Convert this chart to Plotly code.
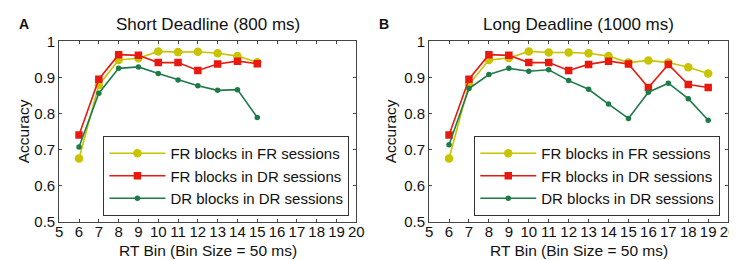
import plotly.graph_objects as go

bins_a = [6, 7, 8, 9, 10, 11, 12, 13, 14, 15]
bins_b = [6, 7, 8, 9, 10, 11, 12, 13, 14, 15, 16, 17, 18, 19]

a_fr_fr = [0.675, 0.879, 0.948, 0.953, 0.972, 0.970, 0.971, 0.967, 0.959, 0.942]
a_fr_dr = [0.740, 0.895, 0.963, 0.961, 0.941, 0.941, 0.919, 0.937, 0.945, 0.938]
a_dr_dr = [0.707, 0.856, 0.925, 0.929, 0.911, 0.893, 0.877, 0.864, 0.866, 0.789]

b_fr_fr = [0.675, 0.880, 0.948, 0.954, 0.972, 0.969, 0.969, 0.967, 0.959, 0.941, 0.947, 0.941, 0.928, 0.911]
b_fr_dr = [0.740, 0.895, 0.963, 0.961, 0.941, 0.941, 0.919, 0.936, 0.945, 0.937, 0.872, 0.936, 0.880, 0.872]
b_dr_dr = [0.713, 0.869, 0.908, 0.925, 0.917, 0.921, 0.891, 0.867, 0.826, 0.786, 0.859, 0.884, 0.841, 0.781]

series_names = ["FR blocks in FR sessions", "FR blocks in DR sessions", "DR blocks in DR sessions"]
titles = ["Short Deadline (800 ms)", "Long Deadline (1000 ms)"]
panel_labels = ["A", "B"]
x_title = "RT Bin (Bin Size = 50 ms)"
y_title = "Accuracy"
x_ticks = list(range(5, 21))
y_ticks = [0.5, 0.6, 0.7, 0.8, 0.9, 1.0]
y_tick_text = ["0.5", "0.6", "0.7", "0.8", "0.9", "1"]

colors = ["#C8C400", "#E81A10", "#1E7B48"]
symbols = ["circle", "square", "circle"]
sizes = [8.5, 7.5, 5.5]

W, H = 737, 260
FONT = "Liberation Sans, Arial, sans-serif"

fig = go.Figure()

panels = [
    (bins_a, [a_fr_fr, a_fr_dr, a_dr_dr], "x", "y", "legend"),
    (bins_b, [b_fr_fr, b_fr_dr, b_dr_dr], "x2", "y2", "legend2"),
]
for bins, ser, xa, ya, lg in panels:
    for name, vals, c, s, sz in zip(series_names, ser, colors, symbols, sizes):
        fig.add_trace(go.Scatter(
            x=bins, y=vals, name=name, mode="lines+markers",
            line=dict(color=c, width=1.6),
            marker=dict(color=c, symbol=s, size=sz, line=dict(width=0)),
            xaxis=xa, yaxis=ya, legend=lg,
        ))

xdoms = [[48 / W, 350 / W], [424 / W, 728 / W]]
ydom = [1 - 219 / H, 1 - 26 / H]

axis_common = dict(
    showgrid=False, zeroline=False, showline=True, linecolor="#444",
    linewidth=1, mirror="ticks", ticks="inside", ticklen=3, tickcolor="#444",
    tickfont=dict(family=FONT, size=15, color="#111"),
)

layout = dict(
    width=W, height=H,
    margin=dict(l=0, r=0, t=0, b=0),
    paper_bgcolor="white", plot_bgcolor="white",
    font=dict(family=FONT, color="#111"),
    showlegend=True,
)
for i, (xk, yk) in enumerate([("xaxis", "yaxis"), ("xaxis2", "yaxis2")]):
    layout[xk] = dict(
        axis_common, domain=xdoms[i], range=[5, 20],
        tickmode="array", tickvals=x_ticks, ticktext=[str(t) for t in x_ticks],
        anchor="y" if i == 0 else "y2", ticklabelstandoff=-4,
    )
    layout[yk] = dict(
        axis_common, domain=ydom, range=[0.5, 1.0],
        tickmode="array", tickvals=y_ticks, ticktext=y_tick_text,
        anchor="x" if i == 0 else "x2",
    )

leg_common = dict(
    bgcolor="white", bordercolor="#333", borderwidth=1,
    font=dict(family=FONT, size=15, color="#111"),
    xanchor="right", yanchor="bottom", tracegroupgap=0,
    itemwidth=56,
)
layout["legend"] = dict(leg_common, x=343 / W, y=1 - 213 / H)
layout["legend2"] = dict(leg_common, x=720 / W, y=1 - 213 / H)

annotations = []
for i in range(2):
    cx = (xdoms[i][0] + xdoms[i][1]) / 2
    annotations.append(dict(
        text=titles[i], x=cx, y=1 - 8 / H, xref="paper", yref="paper",
        xanchor="center", yanchor="middle", showarrow=False,
        font=dict(family=FONT, size=17, color="#111"),
    ))
    annotations.append(dict(
        text="<b>%s</b>" % panel_labels[i], x=(5 if i == 0 else 371) / W, y=1 - 8 / H,
        xref="paper", yref="paper", xanchor="left", yanchor="middle", showarrow=False,
        font=dict(family=FONT, size=14, color="#111"),
    ))
    annotations.append(dict(
        text=x_title, x=cx, y=1 - 250 / H, xref="paper", yref="paper",
        xanchor="center", yanchor="middle", showarrow=False,
        font=dict(family=FONT, size=15.5, color="#111"),
    ))
    annotations.append(dict(
        text=y_title, x=(12 if i == 0 else 385) / W, y=(ydom[0] + ydom[1]) / 2,
        xref="paper", yref="paper", xanchor="center", yanchor="middle",
        showarrow=False, textangle=-90,
        font=dict(family=FONT, size=15.5, color="#111"),
    ))
layout["annotations"] = annotations

fig.update_layout(**layout)
fig.write_html("out.html")
